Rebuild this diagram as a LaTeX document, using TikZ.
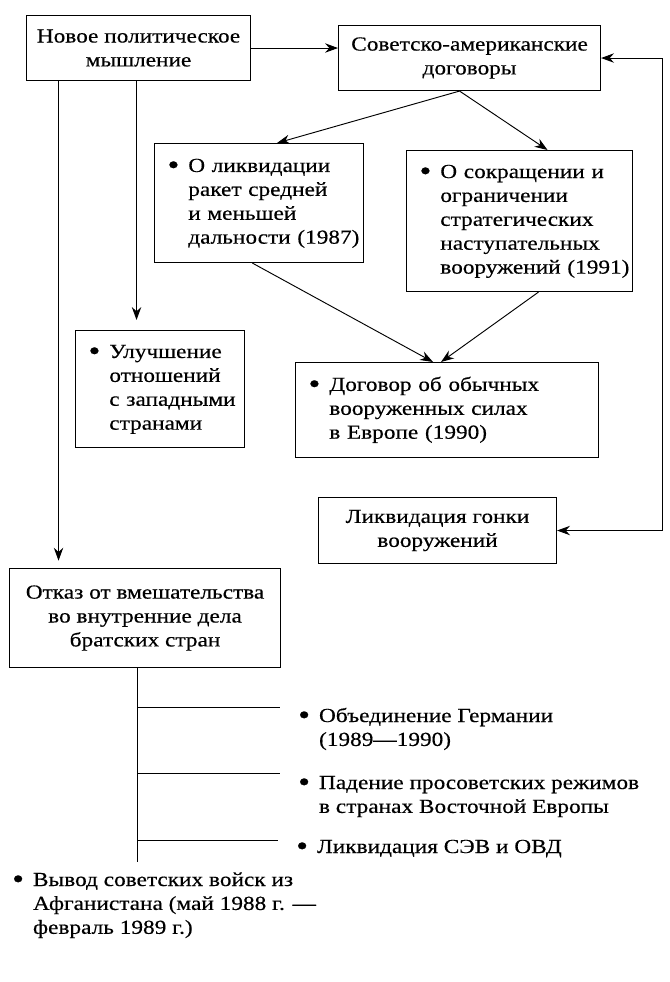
\documentclass[tikz,border=0pt]{standalone}
\usepackage{fontspec}
\setmainfont{Liberation Serif}[FakeStretch=1.17, FakeBold=0.4]
\usetikzlibrary{positioning}
\usetikzlibrary{arrows.meta}
\newcommand{\bul}[1]{\begin{tabular}[t]{@{}l@{\hspace{0.45em}}l@{}}\raisebox{-0.12em}{\scalebox{1.45}{\textbullet}}&\begin{tabular}[t]{@{}l@{}}#1\end{tabular}\end{tabular}}
\tikzset{
    mybox/.style = {rectangle, draw=black, line width=0.9pt, anchor=north west, align=center, inner sep=0pt, font=\fontsize{17}{20.4}\selectfont},
    mybull/.style = {mybox, align=left, inner xsep=0.39cm},
    myitem/.style = {anchor=base west, inner sep=0pt, font=\fontsize{17}{20.4}\selectfont},
    edgea/.style = {-{Stealth[length=11pt,width=8pt]}, line width=0.8pt, black},
    edgeab/.style = {{Stealth[length=11pt,width=8pt]}-{Stealth[length=11pt,width=8pt]}, line width=0.8pt, black},
    edgen/.style = {-, line width=0.8pt, black}
}
\begin{document}
\begin{tikzpicture}[x=0.03cm, y=-0.03cm]
  \useasboundingbox (0,0) rectangle (669,982);
  % boxes
  \node[mybox, minimum width=6.72cm, minimum height=1.95cm] (novoe) at (26,15) {Новое политическое\\мышление};
  \node[mybox, minimum width=7.86cm, minimum height=1.95cm] (dogovory) at (338,25) {Советско-американские\\договоры};
  \node[mybull, text width=5.49cm, minimum height=3.57cm] (rakety) at (154,143) {\bul{О ликвидации\\ракет средней\\и меньшей\\дальности (1987)}};
  \node[mybull, text width=6.0cm, minimum height=4.23cm] (snv) at (406,150) {\bul{О сокращении и\\ограничении\\стратегических\\наступательных\\вооружений (1991)}};
  \node[mybull, text width=4.29cm, minimum height=3.51cm] (zapad) at (75,330) {\bul{Улучшение\\отношений\\с западными\\странами}};
  \node[mybull, text width=8.31cm, minimum height=2.85cm] (evropa) at (295,362) {\bul{Договор об обычных\\вооруженных силах\\в Европе (1990)}};
  \node[mybox, minimum width=7.14cm, minimum height=1.98cm] (gonka) at (318,497) {Ликвидация гонки\\вооружений};
  \node[mybox, minimum width=8.13cm, minimum height=2.97cm] (otkaz) at (9,568) {Отказ от вмешательства\\во внутренние дела\\братских стран};
  % items
  \node[myitem] (germ) at (298,722) {\bul{Объединение Германии\\(1989—1990)}};
  \node[myitem] (rezh) at (298,789) {\bul{Падение просоветских режимов\\в странах Восточной Европы}};
  \node[myitem] (sev) at (296,853) {\bul{Ликвидация СЭВ и ОВД}};
  \node[myitem] (afgan) at (12,886) {\bul{Вывод советских войск из\\Афганистана (май 1988 г. —\\февраль 1989 г.)}};
  % helper points
  \coordinate (right) at (662,300);
  \coordinate (trunk) at (137,862);
  \coordinate (b1) at (137,707);
  \coordinate (b2) at (137,773);
  \coordinate (b3) at (137,840);
  % arrows
  \draw[edgea] (novoe.east) -- (novoe.east -| dogovory.west);
  \draw[edgea] ([xshift=-0.3cm]dogovory.south) -- ([xshift=0.54cm]rakety.north);
  \draw[edgea] ([xshift=-0.3cm]dogovory.south) -- ([xshift=0.84cm]snv.north);
  \draw[edgea] ([xshift=-0.2cm]rakety.south) -- ([xshift=-0.42cm]evropa.north);
  \draw[edgea] ([xshift=0.57cm]snv.south) -- ([xshift=-0.18cm]evropa.north);
  \draw[edgea, shorten >=0.3cm] ([xshift=-0.06cm]novoe.south) -- ([xshift=-0.06cm]novoe.south |- zapad.north);
  \draw[edgea, shorten >=0.22cm] ([xshift=-2.4cm]novoe.south) -- ([xshift=-2.4cm]novoe.south |- otkaz.north);
  \draw[edgeab] (dogovory.east) -- (dogovory.east -| right) -- (gonka.east -| right) -- (gonka.east);
  % tree
  \draw[edgen] (trunk |- otkaz.south) -- (trunk);
  \draw[edgen, shorten >=0.54cm] (b1) -- (b1 -| germ.west);
  \draw[edgen, shorten >=0.54cm] (b2) -- (b2 -| rezh.west);
  \draw[edgen, shorten >=0.54cm] (b3) -- (b3 -| sev.west);
\end{tikzpicture}
\end{document}
